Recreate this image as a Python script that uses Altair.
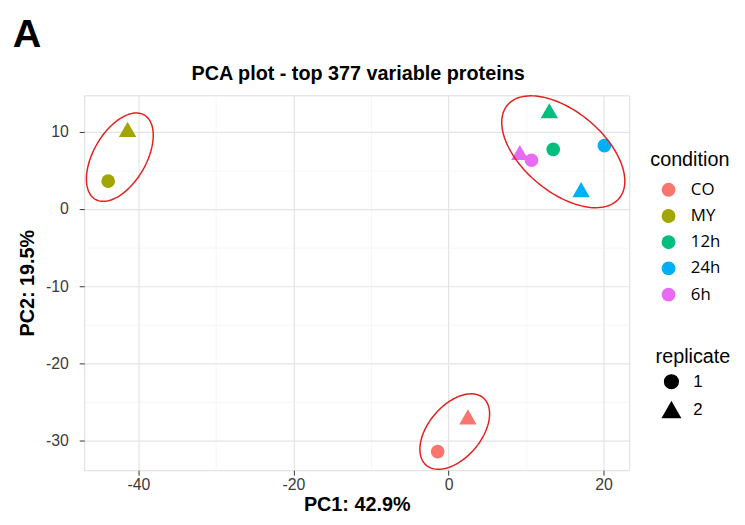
import altair as alt
import pandas as pd
import numpy as np

# ---- data ----
conditions = ["CO", "CO", "MY", "MY", "12h", "12h", "24h", "24h", "6h", "6h"]
replicates = ["1", "2", "1", "2", "1", "2", "1", "2", "1", "2"]
pc1 = [-1.4, 2.5, -43.9, -41.4, 13.5, 13.0, 20.1, 17.1, 10.7, 9.2]
pc2 = [-31.4, -26.9, 3.6, 10.3, 7.7, 12.7, 8.2, 2.5, 6.3, 7.3]

condition_order = ["CO", "MY", "12h", "24h", "6h"]
condition_colors = ["#F8766D", "#A3A500", "#00BF7D", "#00B0F6", "#E76BF3"]
replicate_order = ["1", "2"]

x_ticks = [-40, -30, -20, -10, 0, 10, 20]
y_ticks = [-30, -25, -20, -15, -10, -5, 0, 5, 10]

title_text = ["PCA plot - top 377 variable proteins"]
panel_text = ["A"]

# hand-drawn cluster ellipses: centre, semi-axes, rotation (deg)
ell_cx = [-42.4, 14.8, 0.8]
ell_cy = [6.7, 7.4, -28.8]
ell_a = [6.3, 9.4, 5.7]
ell_b = [3.4, 5.2, 3.4]
ell_angle = [60, -40, 50]

df = pd.DataFrame({"condition": conditions, "replicate": replicates,
                   "PC1": pc1, "PC2": pc2})

rows = []
t = np.linspace(0, 2 * np.pi, 121)
for i in range(len(ell_cx)):
    th = np.deg2rad(ell_angle[i])
    ex = ell_cx[i] + ell_a[i] * np.cos(t) * np.cos(th) - ell_b[i] * np.sin(t) * np.sin(th)
    ey = ell_cy[i] + ell_a[i] * np.cos(t) * np.sin(th) + ell_b[i] * np.sin(t) * np.cos(th)
    for k in range(len(t)):
        rows.append({"id": i, "k": k, "PC1": ex[k], "PC2": ey[k]})
ell_df = pd.DataFrame(rows)

FONT = "Liberation Sans"
major_x = "datum.value % 20 === 0"
major_y = "datum.value % 10 === 0"


def axis(values, test, title_kw):
    return alt.Axis(
        values=values,
        labelExpr=f"{test} ? '' + datum.value : ''",
        gridColor={"condition": {"test": test, "value": "#e4e4e4"}, "value": "#f2f2f2"},
        gridWidth={"condition": {"test": test, "value": 1.2}, "value": 0.7},
        tickOpacity={"condition": {"test": test, "value": 1}, "value": 0},
        tickSize=5, tickColor="#333333", tickWidth=1, domain=False,
        labelFont=FONT, labelFontSize=16, labelColor="#3a3a3a",
        titleFont=FONT, titleFontSize=20, titleFontWeight="bold", titleColor="black",
        **title_kw,
    )


x_axis = axis(x_ticks, major_x, dict(labelPadding=2, titleY=41, titleBaseline="alphabetic"))
y_axis = axis(y_ticks, major_y, dict(labelPadding=11, titleX=-51, titleY=189.5,
                                     titleBaseline="alphabetic", titleAlign="center",
                                     titleAngle=270))

x_enc = alt.X("PC1:Q", title="PC1: 42.9%",
              scale=alt.Scale(domain=[-47.0, 23.3], nice=False, zero=False), axis=x_axis)
y_enc = alt.Y("PC2:Q", title="PC2: 19.5%",
              scale=alt.Scale(domain=[-33.8, 14.7], nice=False, zero=False), axis=y_axis)

rep_legend = alt.Legend(
    title="replicate", orient="none", legendX=577.7, legendY=255,
    titleFont=FONT, titleFontSize=20, titleFontWeight="normal", titleColor="black",
    titlePadding=6, labelFont=FONT, labelFontSize=17, labelColor="black",
    rowPadding=7, symbolOffset=6, labelOffset=12, padding=0,
    symbolFillColor="black", symbolStrokeColor="black",
)

points = alt.Chart(df).mark_point(filled=True, opacity=1).encode(
    x=x_enc,
    y=y_enc,
    color=alt.Color(
        "condition:N",
        scale=alt.Scale(domain=condition_order, range=condition_colors),
        legend=alt.Legend(
            title="condition", orient="none", legendX=572.3, legendY=55,
            titleFont=FONT, titleFontSize=20, titleFontWeight="normal", titleColor="black",
            titlePadding=12, labelFont="Open Sans", labelFontSize=17, labelColor="black",
            symbolType="circle", symbolSize=196, symbolOffset=10, labelOffset=14,
            rowPadding=8.5, padding=0, symbolOpacity=1,
        ),
    ),
    shape=alt.Shape("replicate:O",
                    scale=alt.Scale(domain=replicate_order, range=["circle", "triangle-up"]),
                    legend=rep_legend),
    size=alt.Size("replicate:O",
                  scale=alt.Scale(domain=replicate_order, range=[190, 310]),
                  legend=rep_legend),
)

ellipses = alt.Chart(ell_df).mark_line(color="#E3201E", strokeWidth=1.5).encode(
    x=alt.X("PC1:Q"), y=alt.Y("PC2:Q"), detail="id:N", order="k:Q",
)

plot_title = alt.Chart(pd.DataFrame({"label": title_text})).mark_text(
    font=FONT, fontSize=20, fontWeight="bold", color="black",
    align="center", baseline="alphabetic",
).encode(x=alt.value(277), y=alt.value(-16), text="label:N")

panel_label = alt.Chart(pd.DataFrame({"label": panel_text})).mark_text(
    font=FONT, fontSize=40, fontWeight="bold", color="black",
    align="left", baseline="alphabetic",
).encode(x=alt.value(-72.3), y=alt.value(-48.5), text="label:N")

chart = alt.layer(points, ellipses, plot_title, panel_label).properties(
    width=551, height=379,
    autosize=alt.AutoSizeParams(type="none"),
    padding={"left": 77, "top": 85.5, "right": 109, "bottom": 43.5},
).configure_view(stroke="#a6a6a6", strokeWidth=1).configure(background="white")

chart.save("out.html", embed_options={"renderer": "svg", "actions": False})
